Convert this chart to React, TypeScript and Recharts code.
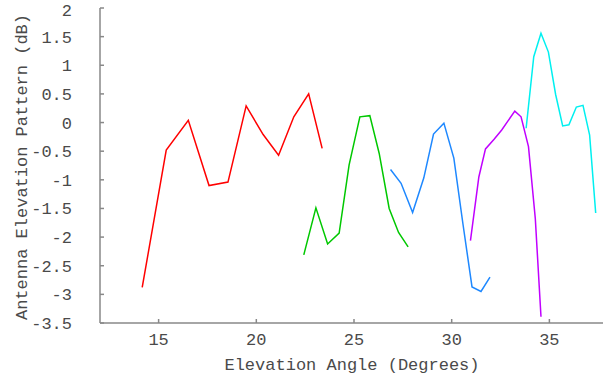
import { LineChart, Line, XAxis, YAxis } from 'recharts';

const xTicks = [15, 20, 25, 30, 35];
const yTicks = [-3.5, -3, -2.5, -2, -1.5, -1, -0.5, 0, 0.5, 1, 1.5, 2];

const redX = [14.16, 15.39, 16.52, 17.58, 18.55, 19.48, 20.35, 21.14, 21.92, 22.68, 23.37];
const redY = [-2.88, -0.48, 0.04, -1.1, -1.04, 0.29, -0.21, -0.57, 0.1, 0.5, -0.45];

const greenX = [22.43, 23.05, 23.65, 24.24, 24.75, 25.3, 25.81, 26.29, 26.8, 27.28, 27.77];
const greenY = [-2.31, -1.49, -2.12, -1.93, -0.74, 0.1, 0.12, -0.54, -1.5, -1.92, -2.17];

const blueX = [26.87, 27.41, 28.0, 28.57, 29.07, 29.6, 30.11, 30.58, 31.04, 31.5, 31.96];
const blueY = [-0.82, -1.06, -1.57, -0.97, -0.2, -0.01, -0.62, -1.78, -2.87, -2.95, -2.7];

const purpleX = [30.96, 31.39, 31.73, 32.17, 32.56, 33.23, 33.55, 33.93, 34.28, 34.57];
const purpleY = [-2.06, -0.95, -0.46, -0.29, -0.13, 0.2, 0.1, -0.42, -1.68, -3.39];

const cyanX = [33.81, 34.2, 34.57, 34.95, 35.32, 35.68, 36.0, 36.38, 36.72, 37.06, 37.37];
const cyanY = [-0.1, 1.15, 1.56, 1.23, 0.49, -0.06, -0.04, 0.27, 0.3, -0.22, -1.58];

const toPoints = (xs: number[], ys: number[]) => xs.map((x, i) => ({ x, y: ys[i] }));

const series = [
  { name: 'red', color: '#ff0000', data: toPoints(redX, redY) },
  { name: 'green', color: '#00c800', data: toPoints(greenX, greenY) },
  { name: 'blue', color: '#1e88ff', data: toPoints(blueX, blueY) },
  { name: 'purple', color: '#c000ff', data: toPoints(purpleX, purpleY) },
  { name: 'cyan', color: '#00f0f0', data: toPoints(cyanX, cyanY) },
];

const font = '"Liberation Mono", monospace';
const textColor = '#4a4a4a';
const axisColor = '#888';

export default function App() {
  return (
    <div style={{ position: 'absolute', left: 0, top: 0, width: 603, height: 378, overflow: 'hidden', background: '#fff' }}>
      <LineChart width={615} height={378} margin={{ top: 8, right: 7, bottom: 0, left: 0 }}>
        <XAxis
          xAxisId="top"
          orientation="top"
          type="number"
          dataKey="x"
          domain={[12, 38]}
          ticks={xTicks}
          height={0}
          tickSize={-4}
          tickFormatter={() => ''}
          stroke={axisColor}
          strokeWidth={1.5}
        />
        <XAxis
          type="number"
          dataKey="x"
          domain={[12, 38]}
          ticks={xTicks}
          height={55}
          tickSize={-4}
          tickMargin={14}
          stroke={axisColor}
          strokeWidth={1.5}
          tick={{ fill: textColor, fontFamily: font, fontSize: 17 }}
          label={{
            content: () => (
              <text x={352} y={370} textAnchor="middle" fill={textColor} fontFamily={font} fontSize={17}>
                Elevation Angle (Degrees)
              </text>
            ),
          }}
        />
        <YAxis
          type="number"
          domain={[-3.5, 2]}
          ticks={yTicks}
          width={100}
          tickSize={-4}
          tickMargin={32}
          stroke={axisColor}
          strokeWidth={1.5}
          tick={{ fill: textColor, fontFamily: font, fontSize: 17 }}
          label={{
            content: () => (
              <text
                x={22}
                y={167}
                transform="rotate(-90, 22, 167)"
                textAnchor="middle"
                dominantBaseline="central"
                fill={textColor}
                fontFamily={font}
                fontSize={17}
              >
                Antenna Elevation Pattern (dB)
              </text>
            ),
          }}
        />
        {series.map((s) => (
          <Line
            key={s.name}
            data={s.data}
            dataKey="y"
            type="linear"
            stroke={s.color}
            strokeWidth={1.5}
            dot={false}
            isAnimationActive={false}
          />
        ))}
      </LineChart>
    </div>
  );
}
